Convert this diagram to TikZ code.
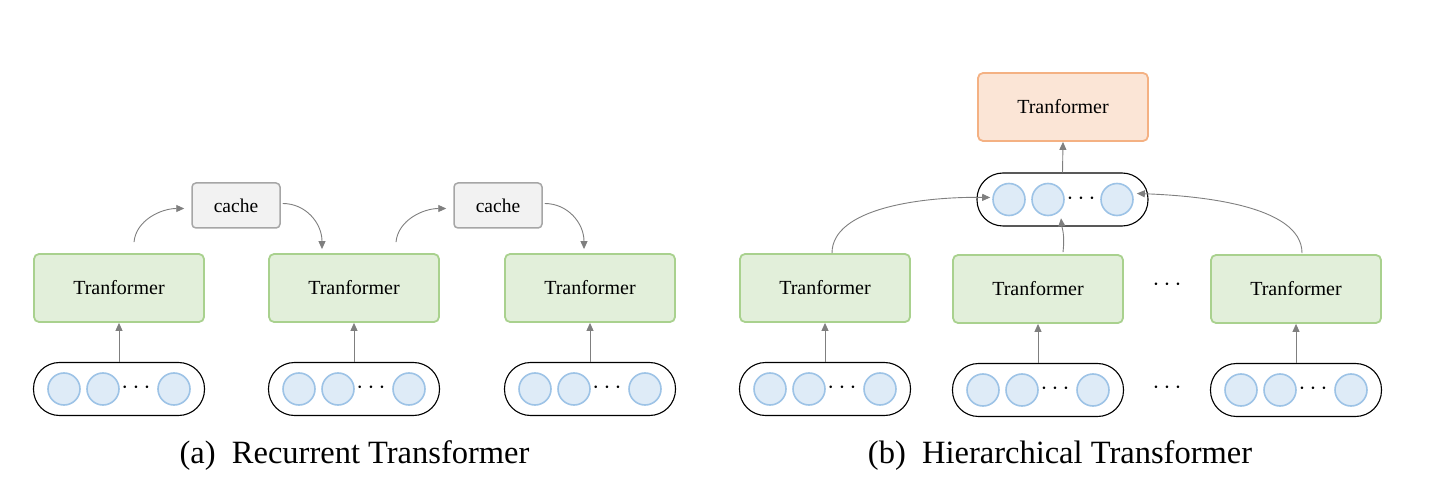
\documentclass[tikz,border=0pt]{standalone}
\usepackage{fontspec}
\newfontfamily\boxfont{Liberation Serif}
\usetikzlibrary{arrows.meta,calc}
\definecolor{greenF}{HTML}{E2EFDA}
\definecolor{greenB}{HTML}{A9D18E}
\definecolor{orangeF}{HTML}{FBE5D6}
\definecolor{orangeB}{HTML}{F4B183}
\definecolor{blueF}{HTML}{DEEBF7}
\definecolor{blueB}{HTML}{9DC3E6}
\definecolor{cacheF}{HTML}{F2F2F2}
\definecolor{cacheB}{HTML}{A6A6A6}
\definecolor{arrG}{HTML}{7F7F7F}
\begin{document}
\begin{tikzpicture}[x=1pt,y=-1pt,
  tbox/.style={rounded corners=5pt, draw=greenB, fill=greenF, line width=1.8pt,
    minimum width=170pt, minimum height=68pt, inner sep=0pt,
    font=\boxfont\fontsize{20}{22}\selectfont},
  obox/.style={tbox, draw=orangeB, fill=orangeF},
  cbox/.style={rounded corners=4pt, draw=cacheB, fill=cacheF, line width=1.5pt,
    minimum width=88pt, minimum height=45pt, inner sep=0pt,
    font=\boxfont\fontsize{19.5}{22}\selectfont},
  capsule/.style={rounded corners=26pt, draw=black, line width=1.1pt,
    minimum width=171pt, minimum height=53pt, inner sep=0pt},
  tok/.style={circle, draw=blueB, fill=blueF, line width=1.6pt,
    minimum size=32pt, inner sep=0pt},
  dotsn/.style={inner sep=0pt, font=\fontsize{28}{28}\selectfont},
  arr/.style={draw=arrG, line width=0.9pt, -{Triangle[length=8pt,width=7pt]}},
  captext/.style={font=\boxfont\fontsize{32.5}{36}\selectfont}
]
\useasboundingbox (0,0) rectangle (1429,502);

% ---------- (a) Recurrent Transformer ----------
\foreach \n/\x in {1/119,2/354,3/590}{
  \node[tbox] (ta\n) at (\x,288) {Tranformer};
  \node[capsule] (ca\n) at (\x,389) {};
  \node[tok] (ka\n1) at (\x-55,389) {};
  \node[tok] (ka\n2) at (\x-16,389) {};
  \node[dotsn] (da\n) at (\x+17,388) {$\cdots$};
  \node[tok] (ka\n3) at (\x+55,389) {};
  \draw[arr] (ca\n.north) -- (ta\n.south);
}
\node[cbox] (cache1) at (236,205.5) {cache};
\node[cbox] (cache2) at (498,205.5) {cache};

\draw[arr] ($(ta1.north)+(15,-11)$) .. controls ($(ta1.north)+(17,-33)$) and ($(cache1.west)+(-30,3)$) .. ($(cache1.west)+(-7,3)$);
\draw[arr] ($(cache1.east)+(2,-2)$) .. controls ($(cache1.east)+(25,-2)$) and ($(ta2.north)+(-32,-30)$) .. ($(ta2.north)+(-32,-4)$);
\draw[arr] ($(ta2.north)+(42,-11)$) .. controls ($(ta2.north)+(44,-33)$) and ($(cache2.west)+(-30,3)$) .. ($(cache2.west)+(-7,3)$);
\draw[arr] ($(cache2.east)+(2,-2)$) .. controls ($(cache2.east)+(25,-2)$) and ($(ta3.north)+(-6,-30)$) .. ($(ta3.north)+(-6,-4)$);

\node[captext] (capa) at (354.5,456) {(a)\hspace{0.5em}Recurrent Transformer};

% ---------- (b) Hierarchical Transformer ----------
\node[obox] (top) at (1063,107) {Tranformer};
\node[capsule] (ctop) at (1062.5,199.5) {};
\node[tok] (kt1) at (1009,199.5) {};
\node[tok] (kt2) at (1048,199.5) {};
\node[dotsn] (dt) at (1081,198.5) {$\cdots$};
\node[tok] (kt3) at (1117,199.5) {};
\draw[arr] (ctop.north) -- (top.south);

\foreach \n/\x/\y in {1/825/288,2/1038/289,3/1296/289}{
  \node[tbox] (tb\n) at (\x,\y) {Tranformer};
  \node[capsule] (cb\n) at (\x,\y+101) {};
  \node[tok] (kb\n1) at (\x-55,\y+101) {};
  \node[tok] (kb\n2) at (\x-16,\y+101) {};
  \node[dotsn] (db\n) at (\x+17,\y+100) {$\cdots$};
  \node[tok] (kb\n3) at (\x+55,\y+101) {};
  \draw[arr] (cb\n.north) -- (tb\n.south);
}
\node[dotsn] (dbx1) at (1167,285) {$\cdots$};
\node[dotsn] (dbx2) at (1167,388) {$\cdots$};

\draw[arr] ($(tb1.north)+(7,0)$) .. controls ($(tb1.north)+(7,-45)$) and ($(kt1.west)+(-70,-3)$) .. ($(kt1.west)+(-2,-2)$);
\draw[arr] ($(tb2.north)+(25,-2)$) .. controls ($(tb2.north)+(27,-20)$) and ($(kt2.south)+(14,12)$) .. ($(kt2.south)+(13,2)$);
\draw[arr] ($(tb3.north)+(6,-1)$) .. controls ($(tb3.north)+(6,-50)$) and ($(kt3.east)+(60,-4)$) .. ($(kt3.east)+(3,-6)$);

\node[captext] (capb) at (1060,456) {(b)\hspace{0.5em}Hierarchical Transformer};
\end{tikzpicture}
\end{document}
